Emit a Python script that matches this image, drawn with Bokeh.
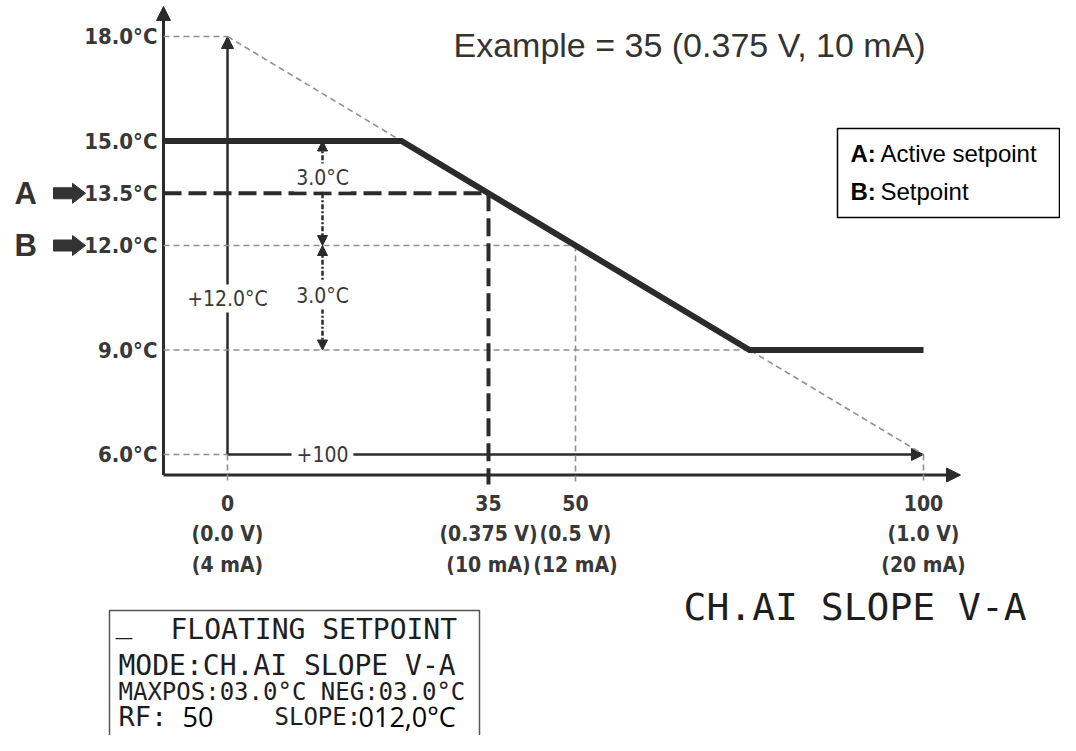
from bokeh.plotting import figure
from bokeh.models import Range1d, ColumnDataSource, Arrow, NormalHead
from bokeh.core.properties import value
from bokeh.embed import file_html
from bokeh.resources import INLINE

# ---------------- data ----------------
y_ticks = [18.0, 15.0, 13.5, 12.0, 9.0, 6.0]
y_tick_labels = ["18.0°C", "15.0°C", "13.5°C", "12.0°C", "9.0°C", "6.0°C"]
x_tick_pos = [0, 37.5, 50, 100]          # drawn position of each tick
x_tick_labels = ["0", "35", "50", "100"]
x_tick_volts = ["(0.0 V)", "(0.375 V)", "(0.5 V)", "(1.0 V)"]
x_tick_ma = ["(4 mA)", "(10 mA)", "(12 mA)", "(20 mA)"]
curve_x = [25, 75, 100]                  # break points of the active curve
curve_y = [15.0, 9.0, 9.0]
slope_x = [0, 100]
slope_y = [18.0, 6.0]
setpoint = 12.0
active_setpoint = 13.5
active_x = 37.5
max_pos = 3.0
max_neg = 3.0
span_x = 100
slope_span = 12.0
marker_x = 13.65
legend_lines = [("A:", "Active setpoint"), ("B:", "Setpoint")]

# ---------------- geometry helpers (pixel <-> data) ----------------
W, H = 1060, 735
PX = 6.96
PY = 34.833


def X2x(X):
    return (X - 227.0) / PX


def Y2y(Y):
    return 6.0 + (454.0 - Y) / PY


DARK = "#2b2b2b"
TXT = "#383838"
GRAY = "#8f8f8f"
COND = "DejaVu Sans Condensed, Roboto Condensed, Liberation Sans Narrow, Roboto"
SANS = "Liberation Sans"
MONO = "DejaVu Sans Mono"

p = figure(width=W, height=H,
           x_range=Range1d(X2x(0), X2x(W)),
           y_range=Range1d(Y2y(H), Y2y(0)),
           output_backend="svg", toolbar_location=None,
           x_axis_location=None, y_axis_location=None,
           min_border=0, outline_line_color=None)
p.grid.visible = False
p.background_fill_color = "white"
p.border_fill_color = "white"

ax_x = X2x(163)
ax_y = Y2y(474.5)
below = Y2y(484)
x_min = min(slope_x)
x_max = max(slope_x)
y_low = min(slope_y)
y_high = max(slope_y)
y_floor = min(curve_y)
y_top = max(curve_y)

# ---------- thin grey dashed guides ----------
gx0 = [ax_x, slope_x[0], ax_x, 50, ax_x, ax_x, x_min, x_max]
gy0 = [y_high, slope_y[0], setpoint, setpoint, y_floor, y_low, y_low, y_low]
gx1 = [x_min, slope_x[1], 50, 50, curve_x[1], x_min, x_min, x_max]
gy1 = [y_high, slope_y[1], setpoint, below, y_floor, y_low, below, below]
p.segment(x0=gx0, y0=gy0, x1=gx1, y1=gy1, line_color=GRAY,
          line_width=1.6, line_dash="6 4")

# ---------- active setpoint heavy dashed ----------
p.line([ax_x, active_x, active_x], [active_setpoint, active_setpoint, below],
       line_color=DARK, line_width=4, line_dash="18 7")


def arrow(x0, y0, x1, y1, lw, size, dash="solid"):
    a = Arrow(x_start=x0, y_start=y0, x_end=x1, y_end=y1,
              line_color=DARK, line_width=lw, line_dash=dash,
              end=NormalHead(size=size, fill_color=DARK, line_color=DARK,
                             line_width=1))
    a.level = "underlay"
    p.add_layout(a)


# axes
arrow(ax_x, ax_y, ax_x, Y2y(6), 3, 14)
arrow(ax_x, ax_y, X2x(960), ax_y, 3, 14)
# +12.0 and +100 arrows
arrow(x_min, y_low, x_min, y_high, 2.5, 12)
arrow(x_min, y_low, x_max, y_low, 2.5, 12)
# max pos / neg arrows
mid_neg = setpoint - max_neg / 2
arrow(marker_x, active_setpoint, marker_x, setpoint + max_pos, 2.5, 10, "5 2 2 2")
arrow(marker_x, active_setpoint, marker_x, setpoint, 2.5, 10, "5 2 2 2")
arrow(marker_x, mid_neg, marker_x, setpoint, 2.5, 10, "5 2 2 2")
arrow(marker_x, mid_neg, marker_x, setpoint - max_neg, 2.5, 10, "5 2 2 2")

# ---------- active curve ----------
p.line([ax_x] + curve_x, [y_top] + curve_y, line_color=DARK, line_width=6,
       line_join="miter")

# ---------- boxes ----------
p.quad(left=[X2x(837)], right=[X2x(1059)], top=[Y2y(128)],
       bottom=[Y2y(217)], fill_color="white", line_color="black",
       line_width=1.5)
p.quad(left=[X2x(109)], right=[X2x(479)], top=[Y2y(610)],
       bottom=[Y2y(770)], fill_color="white", line_color="#555555",
       line_width=1.5)


def txt(xs, ys, texts, size, font, align="left", style="normal",
        color=TXT, bg=None, pad=0):
    src = ColumnDataSource(dict(x=xs, y=ys, t=texts))
    kw = {}
    if bg is not None:
        kw = dict(background_fill_color=bg, padding=pad)
    p.text(x="x", y="y", text="t", source=src,
           text_font=value(font), text_font_size=f"{size}px",
           text_font_style=style, text_align=align,
           text_baseline="middle", text_color=color, **kw)


# y tick labels (vertically centred on the tick)
txt([X2x(157)] * len(y_ticks), y_ticks, y_tick_labels, 22, COND, "right",
    "bold")
# x tick labels
txt(x_tick_pos, [Y2y(502)] * 4, x_tick_labels, 21, COND, "center", "bold")
txt(x_tick_pos, [Y2y(533)] * 4, x_tick_volts, 21, COND, "center", "bold")
txt(x_tick_pos, [Y2y(564)] * 4, x_tick_ma, 21, COND, "center", "bold")

# inline annotations on arrows
txt([x_min], [Y2y(298)], [f"+{slope_span:.1f}°C"], 21, COND, "center",
    bg="white", pad=2)
txt([marker_x], [Y2y(453)], [f"+{span_x}"], 21, COND, "center",
    bg="white", pad=5)
txt([marker_x, marker_x], [Y2y(177), Y2y(295)],
    [f"{max_pos:.1f}°C", f"{max_neg:.1f}°C"], 21, COND, "center",
    bg="white", pad=2)

# A / B markers
txt([X2x(14), X2x(14)], [active_setpoint, setpoint], ["A", "B"], 31, SANS,
    "left", "bold", color="#333333")
for yv in (active_setpoint, setpoint):
    yc = yv
    hx = [X2x(53), X2x(72), X2x(72), X2x(85), X2x(72), X2x(72), X2x(53)]
    hy = [yc + 5.5 / PY, yc + 5.5 / PY, yc + 10 / PY, yc, yc - 10 / PY,
          yc - 5.5 / PY, yc - 5.5 / PY]
    p.patch(hx, hy, fill_color="#333333", line_color="#333333", line_width=1)

# title
txt([X2x(453)], [Y2y(44)], ["Example = 35 (0.375 V, 10 mA)"], 34, SANS,
    color="#333333")

# legend
txt([X2x(850), X2x(850)], [Y2y(153), Y2y(191)],
    [legend_lines[0][0], legend_lines[1][0]], 24, SANS, style="bold",
    color="black")
txt([X2x(880), X2x(880)], [Y2y(153), Y2y(191)],
    [legend_lines[0][1], legend_lines[1][1]], 24, SANS, color="black")

# bottom right caption
txt([X2x(683)], [Y2y(606)], ["CH.AI SLOPE V-A"], 38, MONO, color="#1e1e1e")

# LCD display box
LCD = "#1e1e1e"
txt([X2x(115)], [Y2y(622)], ["_"], 28, MONO, color=LCD)
txt([X2x(170)], [Y2y(629)], ["FLOATING SETPOINT"], 28, MONO, color=LCD)
txt([X2x(118)], [Y2y(665)], ["MODE:CH.AI SLOPE V-A"], 28, MONO, color=LCD)
txt([X2x(118)], [Y2y(691)], ["MAXPOS:03.0°C NEG:03.0°C"], 24, MONO,
    color=LCD)
txt([X2x(118)], [Y2y(716)], ["RF:"], 27, MONO, color=LCD)
txt([X2x(182)], [Y2y(716)], ["50"], 27, "Open Sans", color="black")
txt([X2x(274)], [Y2y(716)], ["SLOPE:"], 24, MONO, color=LCD)
txt([X2x(358)], [Y2y(716)], ["012,0°C"], 27, "Open Sans", color="black")

open("out.html", "w").write(file_html(p, INLINE))
